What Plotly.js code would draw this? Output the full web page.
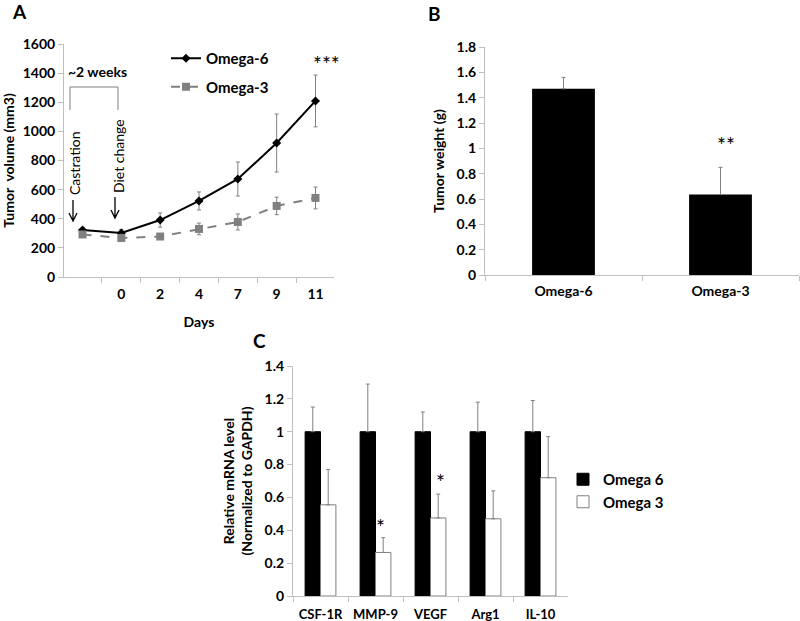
<!DOCTYPE html>
<html>
<head>
<meta charset="utf-8">
<script src="https://cdn.plot.ly/plotly-3.0.1.min.js"></script>
<style>
  html, body { margin: 0; padding: 0; background: #fff; }
  #chart { width: 800px; height: 621px; }
</style>
</head>
<body>
<div id="chart"></div>
<script>
// Panel A: tumor volume over time
var days = [' ', '0', '2', '4', '7', '9', '11'];
var omega6Vol = [323, 302, 391, 522, 673, 920, 1209];
var omega6VolErr = [15, 25, 49, 62, 117, 199, 178];
var omega3Vol = [292, 268, 278, 330, 378, 488, 543];
var omega3VolErr = [15, 25, 20, 40, 55, 60, 75];

// Panel B: tumor weight
var groups = ['Omega-6', 'Omega-3'];
var weight = [1.47, 0.635];
var weightErr = [0.09, 0.215];

// Panel C: mRNA levels
var genes = ['CSF-1R', 'MMP-9', 'VEGF', 'Arg1', 'IL-10'];
var mrna6 = [1, 1, 1, 1, 1];
var mrna6Err = [0.15, 0.29, 0.12, 0.18, 0.19];
var mrna3 = [0.555, 0.265, 0.475, 0.47, 0.72];
var mrna3Err = [0.215, 0.09, 0.145, 0.17, 0.25];

var W = 800, H = 621;
function px(x) { return x / W; }
function py(y) { return 1 - y / H; }

var FONT = 'Lato, "Open Sans", sans-serif';
var GRAY = '#808080';

function axis(extra) {
  var a = {
    showline: true, linecolor: '#bfbfbf', linewidth: 1,
    ticks: 'outside', tickcolor: '#bfbfbf', ticklen: 5,
    showgrid: false, zeroline: false, fixedrange: true,
    tickfont: {family: FONT, size: 14, color: '#000', weight: 'bold'}
  };
  for (var k in extra) a[k] = extra[k];
  return a;
}

var data = [
  {
    x: days, y: omega6Vol, name: 'Omega-6', type: 'scatter', mode: 'lines+markers',
    xaxis: 'x', yaxis: 'y', legend: 'legend', legendgroup: 'a6',
    line: {color: '#000', width: 2},
    marker: {symbol: 'diamond', size: 7, color: '#000'},
    error_y: {type: 'data', array: omega6VolErr, color: GRAY, thickness: 1, width: 2}
  },
  {
    x: days, y: omega3Vol, name: 'Omega-3', type: 'scatter', mode: 'lines+markers',
    xaxis: 'x', yaxis: 'y', legend: 'legend', legendgroup: 'a3',
    line: {color: GRAY, width: 2, dash: 'dash'},
    marker: {symbol: 'square', size: 8, color: GRAY},
    error_y: {type: 'data', array: omega3VolErr, color: GRAY, thickness: 1, width: 2}
  },
  {
    x: groups, y: weight, type: 'bar', width: 0.4, showlegend: false,
    xaxis: 'x2', yaxis: 'y2',
    marker: {color: '#000'},
    error_y: {type: 'data', symmetric: false, array: weightErr, arrayminus: [0, 0],
      color: GRAY, thickness: 1, width: 2}
  },
  {
    x: genes, y: mrna6, name: 'Omega 6', type: 'bar', width: 0.28, offset: -0.28,
    xaxis: 'x3', yaxis: 'y3', legend: 'legend2', legendgroup: 'c6',
    marker: {color: '#000', line: {color: '#000', width: 1}},
    error_y: {type: 'data', symmetric: false, array: mrna6Err, arrayminus: [0, 0, 0, 0, 0],
      color: GRAY, thickness: 1, width: 2}
  },
  {
    x: genes, y: mrna3, name: 'Omega 3', type: 'bar', width: 0.28, offset: 0,
    xaxis: 'x3', yaxis: 'y3', legend: 'legend2', legendgroup: 'c3',
    marker: {color: '#fff', line: {color: GRAY, width: 1}},
    error_y: {type: 'data', symmetric: false, array: mrna3Err, arrayminus: [0, 0, 0, 0, 0],
      color: GRAY, thickness: 1, width: 2}
  }
];

var titleFont = {family: FONT, size: 14, color: '#000', weight: 'bold'};

function label(x, y, text, opts) {
  var a = {
    xref: 'paper', yref: 'paper', x: px(x), y: py(y), text: text, showarrow: false,
    xanchor: 'center', yanchor: 'middle',
    font: {family: FONT, size: 14, color: '#000'}
  };
  for (var k in opts) a[k] = opts[k];
  return a;
}

function pathPx(pts) {
  return pts.map(function (seg) {
    return seg.map(function (p, i) {
      return (i === 0 ? 'M' : 'L') + px(p[0]) + ',' + py(p[1]);
    }).join(' ');
  }).join(' ');
}

var lineStyle = {color: GRAY, width: 1};
var arrowStyle = {color: '#000', width: 1.3};
var letterFont = {family: FONT, size: 19, color: '#000', weight: 'bold'};
var starFont = {family: FONT, size: 21, color: '#000'};

var layout = {
  width: W, height: H,
  margin: {l: 0, r: 0, t: 0, b: 0},
  paper_bgcolor: '#fff', plot_bgcolor: 'rgba(0,0,0,0)',
  showlegend: true,
  xaxis: axis({domain: [px(64), px(334)], anchor: 'y', type: 'category', tickson: 'boundaries',
    ticklabelstandoff: 4,
    title: {text: 'Days', font: titleFont, standoff: 16}}),
  yaxis: axis({domain: [py(277), py(44)], anchor: 'x', range: [0, 1600], dtick: 200,
    title: {text: 'Tumor  volume (mm3)', font: titleFont, standoff: 6}}),
  xaxis2: axis({domain: [px(485), px(799)], anchor: 'y2', type: 'category', tickson: 'boundaries',
    ticklabelstandoff: 3}),
  yaxis2: axis({domain: [py(275), py(47)], anchor: 'x2', range: [0, 1.8], dtick: 0.2,
    title: {text: 'Tumor weight (g)', font: titleFont, standoff: 8}}),
  xaxis3: axis({domain: [px(293), px(568)], anchor: 'y3', type: 'category', tickson: 'boundaries',
    tickangle: 0, ticklabelstandoff: 6,
    tickfont: {family: FONT, size: 13, color: '#000', weight: 'bold'}}),
  yaxis3: axis({domain: [py(596), py(366)], anchor: 'x3', range: [0, 1.4], dtick: 0.2,
    title: {text: 'Relative mRNA level<br>(Normalized to GAPDH)', font: titleFont, standoff: 8}}),
  legend: {
    x: px(166), y: py(42), xanchor: 'left', yanchor: 'top',
    bgcolor: 'rgba(0,0,0,0)', tracegroupgap: 6, itemwidth: 30,
    font: {family: FONT, size: 15, color: '#000', weight: 'bold'}
  },
  legend2: {
    x: px(563), y: py(463), xanchor: 'left', yanchor: 'top',
    bgcolor: 'rgba(0,0,0,0)', tracegroupgap: 0, itemwidth: 30,
    font: {family: FONT, size: 15, color: '#000', weight: 'bold'}
  },
  annotations: [
    label(19, 12, 'A', {font: letterFont}),
    label(434, 14, 'B', {font: letterFont}),
    label(259, 340, 'C', {font: letterFont}),
    label(97, 72, '~2 weeks', {font: {family: FONT, size: 14, color: '#000', weight: 'bold'}}),
    label(74, 163, 'Castration', {textangle: -90}),
    label(118, 156, 'Diet change', {textangle: -90}),
    label(326, 63, '***', {font: starFont}),
    label(726, 144, '**', {font: starFont}),
    label(380, 526, '*', {font: starFont}),
    label(440, 481, '*', {font: starFont})
  ],
  shapes: [
    {type: 'path', xref: 'paper', yref: 'paper', line: lineStyle,
      path: pathPx([[[70, 110], [70, 87], [118, 87], [118, 110]]])},
    {type: 'path', xref: 'paper', yref: 'paper', line: arrowStyle,
      path: pathPx([[[73, 200], [73, 221]], [[69, 213], [73, 221], [77, 213]]])},
    {type: 'path', xref: 'paper', yref: 'paper', line: arrowStyle,
      path: pathPx([[[115, 197], [115, 218]], [[111, 210], [115, 218], [119, 210]]])}
  ]
};

Plotly.newPlot('chart', data, layout, {displayModeBar: false, staticPlot: true});
</script>
</body>
</html>
